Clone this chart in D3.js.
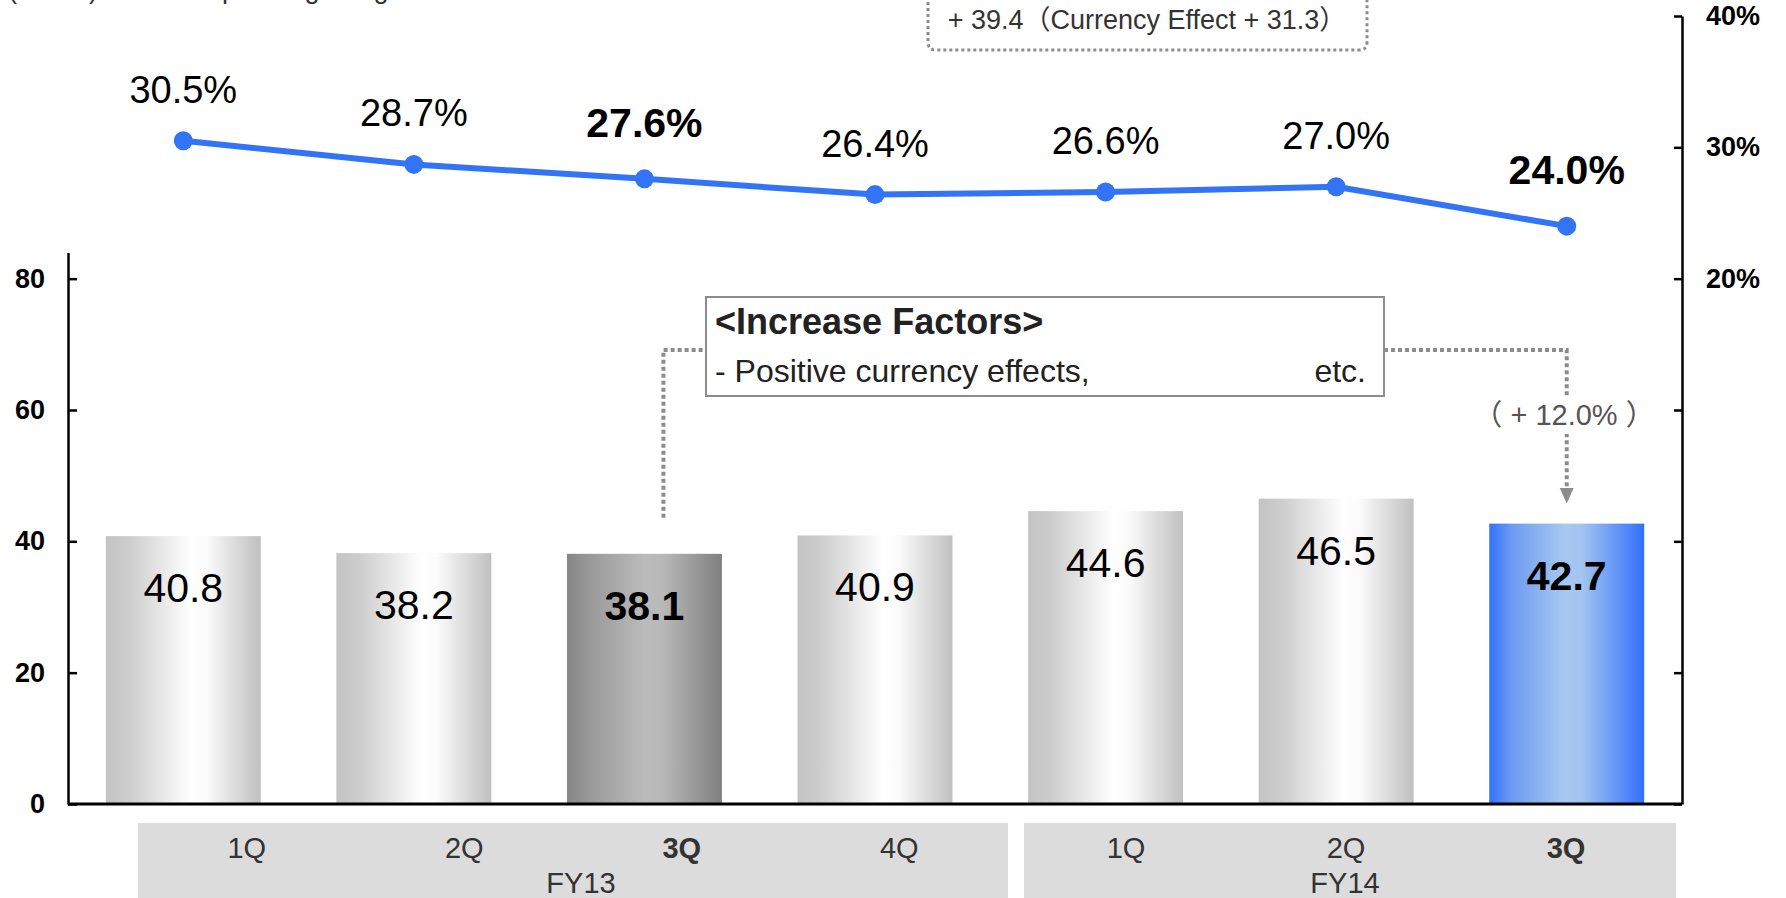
<!DOCTYPE html>
<html>
<head>
<meta charset="utf-8">
<script src="https://cdn.jsdelivr.net/npm/d3@7"></script>
<style>
  html, body { margin: 0; padding: 0; background: #ffffff; }
  svg { display: block; }
  text { font-family: "Liberation Sans", Arial, "Noto Sans CJK JP", sans-serif; }
</style>
</head>
<body>
<svg id="chart" width="1786" height="898"></svg>
<script>
// ---------------- data ----------------
const quarters   = ["1Q", "2Q", "3Q", "4Q", "1Q", "2Q", "3Q"];
const fiscalYears = ["FY13", "FY13", "FY13", "FY13", "FY14", "FY14", "FY14"];
const yearGroups = ["FY13", "FY14"];
const barValues  = [40.8, 38.2, 38.1, 40.9, 44.6, 46.5, 42.7];
const marginValues = [0.305, 0.287, 0.276, 0.264, 0.266, 0.270, 0.240];
const barStyle   = ["normal", "normal", "prev", "normal", "normal", "normal", "current"];
const leftTicks  = [0, 20, 40, 60, 80];
const rightTicks = [-0.2, -0.1, 0, 0.1, 0.2, 0.3, 0.4];
const topNote    = "+ 39.4（Currency Effect + 31.3）";
const factorTitle = "<Increase Factors>";
const factorText = "- Positive currency effects,";
const factorEtc  = "etc.";
const changeNote = "（ + 12.0% ）";

// ---------------- layout ----------------
const svg = d3.select("#chart");
const W = 1786, H = 898;
const plotL = 68, plotR = 1682, baseY = 804;

const keys = quarters.map((q, i) => fiscalYears[i] + "-" + q);
const x = d3.scaleBand().domain(keys).range([plotL, plotR]).paddingInner(0.328).paddingOuter(0.164);
const yL = d3.scaleLinear().domain([0, 84]).range([baseY, 252.4]);
const yR = d3.scaleLinear().domain([-0.2, 0.4]).range([baseY, 16]);

// gradients
const defs = svg.append("defs");
function grad(id, stops) {
  const g = defs.append("linearGradient").attr("id", id)
    .attr("x1", "0%").attr("x2", "100%").attr("y1", "0%").attr("y2", "0%");
  stops.forEach(s => g.append("stop").attr("offset", s[0]).attr("stop-color", s[1]));
}
grad("gNormal", [["0%", "#C3C3C3"], ["15%", "#CDCDCD"], ["55%", "#FFFFFF"], ["65%", "#FBFBFB"], ["100%", "#C0C0C0"]]);
grad("gPrev",   [["0%", "#868686"], ["15%", "#999999"], ["50%", "#BBBBBB"], ["62%", "#B8B8B8"], ["100%", "#7F7F7F"]]);
grad("gCur",    [["0%", "#3371FA"], ["15%", "#6E9BF3"], ["48%", "#A6C8F0"], ["60%", "#A2C4F0"], ["100%", "#3270FB"]]);
const fillFor = { normal: "url(#gNormal)", prev: "url(#gPrev)", current: "url(#gCur)" };

// cut-off header text at very top (as in the reference)
svg.append("text").attr("x", 8).attr("y", -2).attr("font-size", 27).attr("fill", "#333").text("(Billion)");
svg.append("text").attr("x", 201).attr("y", -2).attr("font-size", 27).attr("fill", "#333").text("Operating Margin");

// bottom category table
const groupRanges = { FY13: [138, 1008], FY14: [1024, 1676] };
yearGroups.forEach(g => {
  const r = groupRanges[g];
  svg.append("rect").attr("x", r[0]).attr("y", 823).attr("width", r[1] - r[0]).attr("height", H - 823)
    .attr("fill", "#DCDCDC");
  const qs = keys.filter((k, i) => fiscalYears[i] === g);
  const xs = d3.scaleBand().domain(qs).range(g === "FY13" ? r : [r[0] - 8, r[1]]);
  qs.forEach(k => {
    const i = keys.indexOf(k);
    svg.append("text").attr("x", xs(k) + xs.bandwidth() / 2).attr("y", 858)
      .attr("text-anchor", "middle").attr("font-size", 29).attr("fill", "#333")
      .attr("font-weight", barStyle[i] === "normal" ? "normal" : "bold")
      .text(quarters[i]);
  });
  svg.append("text").attr("x", (r[0] + r[1]) / 2 - (g === "FY13" ? -8 : 5)).attr("y", 893)
    .attr("text-anchor", "middle").attr("font-size", 29).attr("fill", "#333").text(g);
});

// bars
svg.append("g").selectAll("rect").data(barValues).join("rect")
  .attr("x", (d, i) => x(keys[i]))
  .attr("y", d => yL(d))
  .attr("width", x.bandwidth())
  .attr("height", d => baseY - yL(d))
  .attr("fill", (d, i) => fillFor[barStyle[i]]);

// bar labels
svg.append("g").selectAll("text").data(barValues).join("text")
  .attr("x", (d, i) => x(keys[i]) + x.bandwidth() / 2)
  .attr("y", d => yL(d) + 66)
  .attr("text-anchor", "middle")
  .attr("font-size", 41)
  .attr("font-weight", (d, i) => barStyle[i] === "normal" ? "normal" : "bold")
  .attr("fill", "#000")
  .text(d => d.toFixed(1));

// axes
const leftAxis = d3.axisLeft(yL).tickValues(leftTicks).tickSize(-9).tickSizeOuter(0).tickPadding(23);
const gL = svg.append("g").attr("transform", `translate(${plotL},0)`).call(leftAxis);
gL.select(".domain").attr("stroke", "#000").attr("stroke-width", 2.5);
gL.selectAll(".tick line").attr("stroke", "#000").attr("stroke-width", 2.5);
gL.selectAll(".tick text").attr("font-size", 27).attr("font-weight", "bold").attr("fill", "#000")
  .attr("font-family", "'Liberation Sans', Arial, sans-serif").attr("x", -23);

const rightAxis = d3.axisRight(yR).tickValues(rightTicks).tickSize(-8).tickSizeOuter(0).tickPadding(24)
  .tickFormat(d => d >= 0.195 ? d3.format(".0%")(d) : "");
const gR = svg.append("g").attr("transform", `translate(${plotR},0)`).call(rightAxis);
gR.select(".domain").attr("stroke", "#000").attr("stroke-width", 2.5);
gR.selectAll(".tick line").attr("stroke", "#000").attr("stroke-width", 2.5);
gR.selectAll(".tick text").attr("font-size", 27).attr("font-weight", "bold").attr("fill", "#000")
  .attr("font-family", "'Liberation Sans', Arial, sans-serif").attr("x", 24);

// baseline
svg.append("line").attr("x1", plotL).attr("x2", plotR).attr("y1", baseY).attr("y2", baseY)
  .attr("stroke", "#000").attr("stroke-width", 3);

// margin line
const cx = (i) => x(keys[i]) + x.bandwidth() / 2;
const line = d3.line().x((d, i) => cx(i)).y(d => yR(d));
svg.append("path").datum(marginValues).attr("d", line)
  .attr("fill", "none").attr("stroke", "#3274F5").attr("stroke-width", 6).attr("stroke-linejoin", "round");
svg.append("g").selectAll("circle").data(marginValues).join("circle")
  .attr("cx", (d, i) => cx(i)).attr("cy", d => yR(d)).attr("r", 9.5).attr("fill", "#3274F5");
svg.append("g").selectAll("text").data(marginValues).join("text")
  .attr("x", (d, i) => cx(i))
  .attr("y", (d, i) => yR(d) - (barStyle[i] === "normal" ? 38 : 42))
  .attr("text-anchor", "middle")
  .attr("font-size", (d, i) => barStyle[i] === "normal" ? 38 : 41)
  .attr("font-weight", (d, i) => barStyle[i] === "normal" ? "normal" : "bold")
  .attr("fill", "#000")
  .text(d => d3.format(".1%")(d));

// top dotted note box
svg.append("path")
  .attr("d", "M928,-10 L928,42 Q928,50 936,50 L1359,50 Q1367,50 1367,42 L1367,-10")
  .attr("fill", "none").attr("stroke", "#8C8C8C").attr("stroke-width", 3).attr("stroke-dasharray", "3,3");
svg.append("text").attr("x", 1147).attr("y", 29).attr("text-anchor", "middle")
  .attr("font-size", 27).attr("fill", "#333").text(topNote);

// dotted connectors
const iPrev = barStyle.indexOf("prev"), iCur = barStyle.indexOf("current");
const connL = cx(iPrev) + 19, connR = cx(iCur);
const dotted = (sel) => sel.attr("fill", "none").attr("stroke", "#8C8C8C").attr("stroke-width", 4).attr("stroke-dasharray", "4,3");
svg.append("path").attr("d", `M${connL},${yL(barValues[iPrev]) - 36} L${connL},350 L706,350`).call(dotted);
svg.append("path").attr("d", `M1384,350 L${connR},350 L${connR},492`).call(dotted);
svg.append("path").attr("d", `M${connR - 7},488 L${connR + 7},488 L${connR},${yL(barValues[iCur]) - 20} Z`)
  .attr("fill", "#8C8C8C");

// change note with white background
svg.append("rect").attr("x", 1476).attr("y", 396).attr("width", 178).attr("height", 38).attr("fill", "#fff");
svg.append("text").attr("x", 1564).attr("y", 425).attr("text-anchor", "middle")
  .attr("font-size", 29).attr("fill", "#555").text(changeNote);

// increase factors box
svg.append("rect").attr("x", 706).attr("y", 297).attr("width", 678).attr("height", 99)
  .attr("fill", "#fff").attr("stroke", "#8C8C8C").attr("stroke-width", 2);
svg.append("text").attr("x", 715).attr("y", 334).attr("font-size", 36).attr("font-weight", "bold")
  .attr("fill", "#222").text(factorTitle);
svg.append("text").attr("x", 715).attr("y", 382).attr("font-size", 32).attr("fill", "#222").text(factorText);
svg.append("text").attr("x", 1366).attr("y", 382).attr("text-anchor", "end").attr("font-size", 32)
  .attr("fill", "#222").text(factorEtc);
</script>
</body>
</html>
